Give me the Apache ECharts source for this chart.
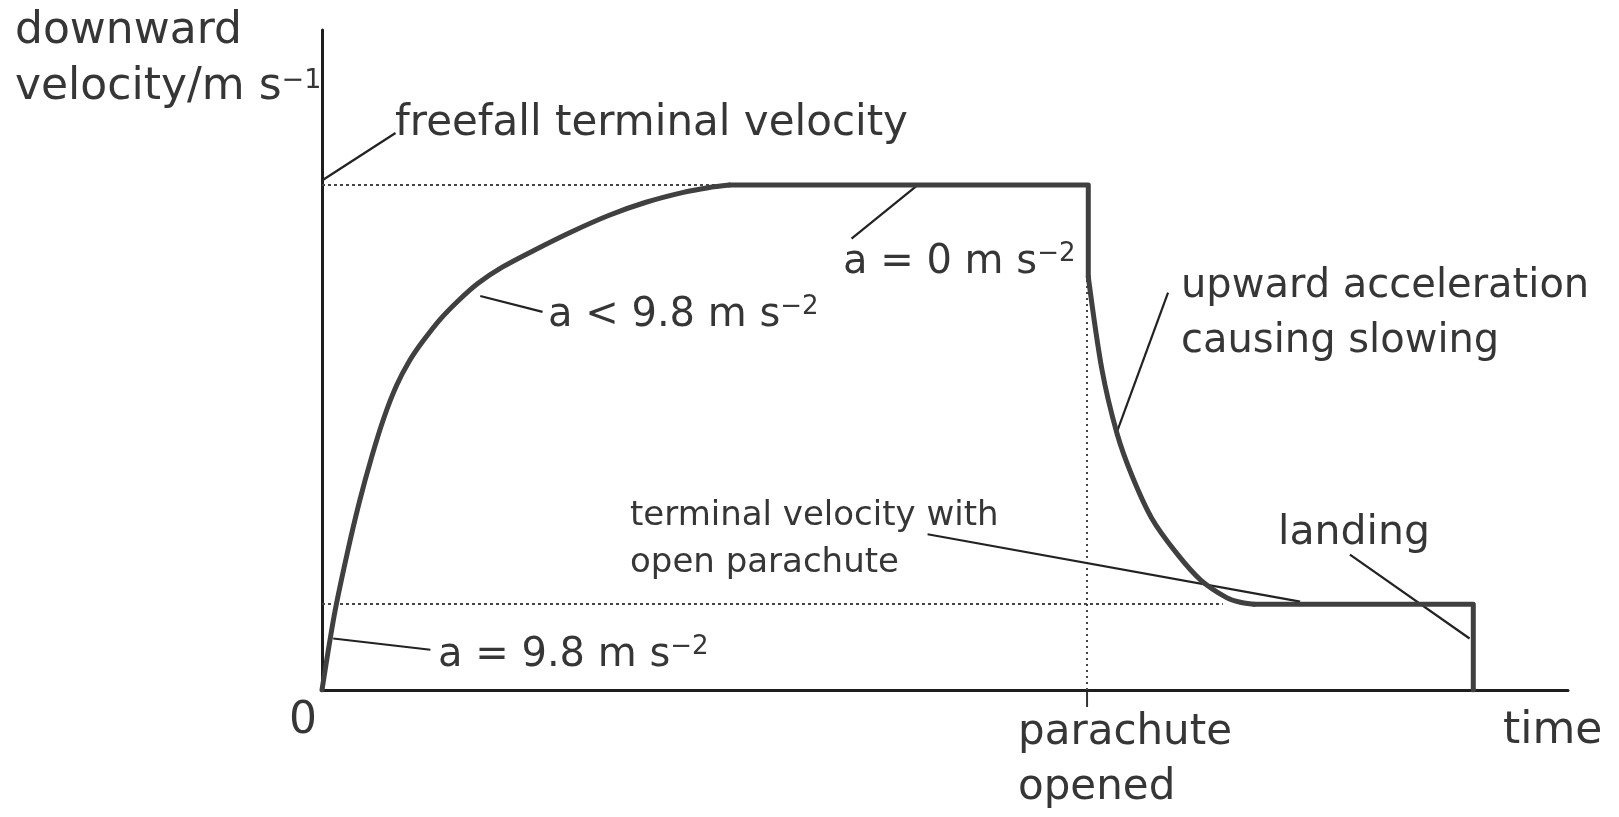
<!DOCTYPE html>
<html>
<head>
<meta charset="utf-8">
<script src="https://cdn.jsdelivr.net/npm/echarts@6/dist/echarts.min.js"></script>
<style>
    html, body { margin: 0; padding: 0; background: #fff; }
    #chart { width: 1619px; height: 817px; }
</style>
</head>
<body>
<div id="chart"></div>
<script>
// skydiver velocity-time sketch (arbitrary units, 0..100 on both axes)
var fallTime = [0, 1.0, 2.0, 3.0, 4.0, 5.0, 6.0, 7.0, 8.0, 9.5, 11.0, 12.5, 14.5, 17.0, 20.0, 23.0, 26.0, 29.0, 31.0, 32.7,
    61.5, 61.5, 62.6, 63.8, 65.0, 66.6, 68.6, 70.5, 72.6, 73.7, 74.8, 92.4, 92.4];
var fallVelocity = [0, 11.5, 20.5, 28.5, 35.4, 41.4, 46.2, 49.8, 52.6, 56.2, 59.1, 61.6, 64.1, 66.6, 69.4, 71.9, 73.9, 75.4, 76.1, 76.5,
    76.5, 62.6, 48.5, 38.9, 32.5, 26.0, 20.7, 16.7, 14.0, 13.3, 13.0, 13.0, 0];
var freefallTerminal = 76.5;
var parachuteTerminal = 13.0;
var parachuteOpenTime = 61.4;
var freefallGuideEnd = 32.0;
var parachuteGuideEnd = 72.3;

// leader lines from a label to the curve: [x1, y1, x2, y2]
var leaders = [
    [0, 77.2, 5.9, 84.4],      // freefall terminal velocity
    [47.8, 76.5, 42.5, 68.4],  // a = 0
    [12.7, 59.7, 17.7, 57.3],  // a < 9.8
    [0.9, 7.8, 8.7, 6.1],      // a = 9.8
    [67.9, 60.2, 63.8, 39.1],  // upward acceleration
    [48.6, 23.6, 78.5, 13.4],  // terminal velocity with open parachute
    [82.5, 20.5, 92.1, 7.8]    // landing
];

var INK = '#363636';
var FONT = 'DejaVu Sans';

var chart = echarts.init(document.getElementById('chart'));

var points = fallTime.map(function(t, i) {
    return [t, fallVelocity[i]];
});

// curved parts are smoothed, corners (chute opening, landing) stay sharp
var pieces = [
    { from: 0, to: 19, smooth: 0.3 },
    { from: 19, to: 21, smooth: false },
    { from: 21, to: 30, smooth: 0.3 },
    { from: 30, to: 32, smooth: false }
];

var dotted = { type: [3, 3], width: 2, color: '#444' };
var leaderStyle = { type: 'solid', width: 2.2, color: '#222' };

var markData = [
    [{ coord: [0, freefallTerminal], lineStyle: dotted }, { coord: [freefallGuideEnd, freefallTerminal] }],
    [{ coord: [0, parachuteTerminal], lineStyle: dotted }, { coord: [parachuteGuideEnd, parachuteTerminal] }],
    [{ coord: [parachuteOpenTime, 0], lineStyle: { type: [2, 4], width: 2, color: '#444' } }, { coord: [parachuteOpenTime, freefallTerminal] }]
];
leaders.forEach(function(l) {
    markData.push([{ coord: [l[0], l[1]], lineStyle: leaderStyle }, { coord: [l[2], l[3]] }]);
});

var series = pieces.map(function(p, i) {
    var s = {
        type: 'line',
        data: points.slice(p.from, p.to + 1),
        showSymbol: false,
        smooth: p.smooth,
        silent: true,
        z: 5,
        lineStyle: { color: '#404040', width: 5, join: 'round', cap: 'round' }
    };
    if (i === 0) {
        s.markLine = {
            silent: true,
            symbol: ['none', 'none'],
            label: { show: false },
            data: markData
        };
    }
    return s;
});

function txt(str, left, middle, size) {
    return {
        type: 'text',
        x: left,
        y: middle,
        silent: true,
        style: {
            text: str,
            fill: INK,
            fontFamily: FONT,
            fontSize: size,
            textAlign: 'left',
            textVerticalAlign: 'middle',
            rich: {
                sup: { fontFamily: FONT, fontSize: 26, fill: INK, padding: [0, 0, 18, 0] },
                sup1: { fontFamily: FONT, fontSize: 27, fill: INK, padding: [0, 0, 14, 0] }
            }
        }
    };
}

var labels = [
    txt('downward', 15, 32, 44),
    txt('velocity/m s{sup1|\u22121}', 15, 88, 44),
    txt('freefall terminal velocity', 395, 124, 42),
    txt('a = 0 m s{sup|\u22122}', 843, 263, 40),
    txt('a < 9.8 m s{sup|\u22122}', 548, 316, 40),
    txt('a = 9.8 m s{sup|\u22122}', 438, 656, 40),
    txt('upward acceleration', 1181, 287, 40),
    txt('causing slowing', 1181, 342, 40),
    txt('terminal velocity with', 630, 516, 34),
    txt('open parachute', 630, 563, 34),
    txt('landing', 1278, 533, 41),
    txt('0', 289, 722, 44),
    txt('parachute', 1018, 733, 42),
    txt('opened', 1018, 788, 42),
    txt('time', 1503, 732, 44)
];

var option = {
    animation: false,
    backgroundColor: '#fff',
    grid: {
        left: 322,
        right: 51,
        top: 30,
        bottom: 127,
        containLabel: false,
        outerBoundsMode: 'none'
    },
    xAxis: {
        type: 'value',
        min: 0,
        max: 100,
        axisLine: { show: true, lineStyle: { color: '#1e1e1e', width: 3 } },
        axisTick: { show: false },
        axisLabel: { show: false },
        splitLine: { show: false }
    },
    yAxis: {
        type: 'value',
        min: 0,
        max: 100,
        axisLine: { show: true, lineStyle: { color: '#1e1e1e', width: 3 } },
        axisTick: { show: false },
        axisLabel: { show: false },
        splitLine: { show: false }
    },
    series: series,
    graphic: labels
};

chart.setOption(option);

// small tick under the time axis where the parachute opens
var tickAt = chart.convertToPixel({ gridIndex: 0 }, [parachuteOpenTime, 0]);
labels.push({
    type: 'line',
    silent: true,
    shape: { x1: tickAt[0], y1: tickAt[1], x2: tickAt[0], y2: tickAt[1] + 17 },
    style: { stroke: '#333', lineWidth: 2 }
});
chart.setOption({ graphic: labels });
</script>
</body>
</html>
